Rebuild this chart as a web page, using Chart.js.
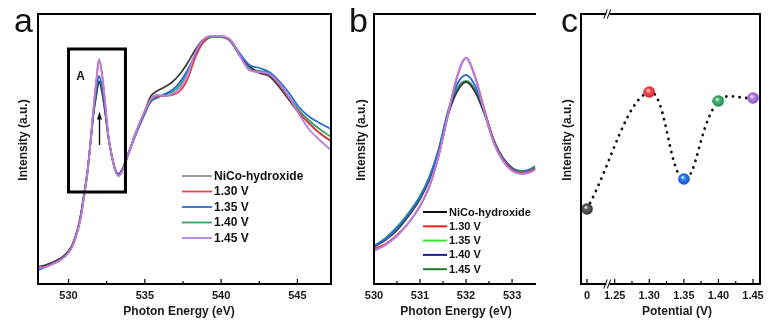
<!DOCTYPE html>
<html>
<head>
<meta charset="utf-8">
<script src="https://cdn.jsdelivr.net/npm/chart.js@4.4.1/dist/chart.umd.min.js"></script>
<style>
  body { margin: 0; background: #fff; width: 780px; height: 326px; position: relative; overflow: hidden; font-family: "Liberation Sans", Arial, sans-serif; }
  canvas { position: absolute; top: 0; }
  .tag { position: absolute; top: 3px; font-size: 34px; line-height: 34px; color: #111; }
</style>
</head>
<body>
<canvas id="chartA" width="340" height="326" style="left:0"></canvas>
<canvas id="chartB" width="210" height="326" style="left:340px"></canvas>
<canvas id="chartC" width="230" height="326" style="left:550px"></canvas>
<div class="tag" style="left:14px">a</div>
<div class="tag" style="left:349px">b</div>
<div class="tag" style="left:561px">c</div>
<script>
// ---- O K-edge spectra, full range ----
const energyA = [528, 528.5, 529, 529.5, 530, 530.3, 530.6, 530.8, 531, 531.25, 531.45, 531.65, 531.85, 532, 532.2, 532.4, 532.6, 532.85, 533.05, 533.25, 533.5, 533.9, 534.4, 535, 535.4, 535.8, 536.3, 536.8, 537.3, 537.8, 538.3, 538.8, 539.4, 540, 540.6, 541.2, 541.85, 542.5, 543.15, 543.8, 544.45, 545.1, 545.8, 546.45, 547.2];
const nicoA = [0.068, 0.076, 0.088, 0.104, 0.132, 0.164, 0.22, 0.276, 0.352, 0.456, 0.572, 0.688, 0.768, 0.812, 0.768, 0.688, 0.592, 0.508, 0.46, 0.44, 0.456, 0.52, 0.604, 0.692, 0.752, 0.772, 0.788, 0.808, 0.84, 0.884, 0.936, 0.976, 0.988, 0.988, 0.972, 0.916, 0.872, 0.844, 0.832, 0.788, 0.736, 0.684, 0.64, 0.604, 0.572];
const v130A = [0.066, 0.07, 0.082, 0.098, 0.126, 0.158, 0.214, 0.266, 0.342, 0.448, 0.574, 0.708, 0.828, 0.896, 0.836, 0.72, 0.598, 0.508, 0.458, 0.434, 0.45, 0.516, 0.604, 0.69, 0.736, 0.752, 0.752, 0.756, 0.772, 0.82, 0.904, 0.964, 0.988, 0.988, 0.976, 0.916, 0.856, 0.848, 0.84, 0.8, 0.744, 0.688, 0.64, 0.604, 0.572];
const v135A = [0.056, 0.068, 0.084, 0.1, 0.128, 0.16, 0.216, 0.272, 0.348, 0.452, 0.572, 0.696, 0.792, 0.832, 0.788, 0.7, 0.596, 0.508, 0.46, 0.44, 0.456, 0.516, 0.596, 0.68, 0.732, 0.744, 0.76, 0.776, 0.808, 0.856, 0.916, 0.968, 0.988, 0.988, 0.976, 0.924, 0.876, 0.864, 0.848, 0.812, 0.764, 0.708, 0.668, 0.644, 0.62];
const v140A = [0.066, 0.075, 0.087, 0.103, 0.131, 0.163, 0.219, 0.275, 0.351, 0.455, 0.571, 0.687, 0.767, 0.81, 0.767, 0.688, 0.592, 0.506, 0.458, 0.438, 0.454, 0.518, 0.6, 0.688, 0.728, 0.748, 0.756, 0.768, 0.796, 0.848, 0.912, 0.964, 0.988, 0.988, 0.972, 0.916, 0.864, 0.852, 0.844, 0.8, 0.748, 0.696, 0.652, 0.62, 0.588];
const v145A = [0.064, 0.068, 0.08, 0.096, 0.124, 0.156, 0.212, 0.264, 0.34, 0.448, 0.576, 0.712, 0.832, 0.9, 0.84, 0.724, 0.6, 0.508, 0.456, 0.432, 0.448, 0.516, 0.604, 0.692, 0.74, 0.756, 0.752, 0.76, 0.784, 0.84, 0.924, 0.976, 0.992, 0.992, 0.976, 0.916, 0.856, 0.848, 0.84, 0.804, 0.748, 0.68, 0.616, 0.576, 0.536];

// ---- pre-edge peak A, zoomed ----
const energyB = [530, 530.25, 530.5, 530.75, 531, 531.2, 531.4, 531.6, 531.8, 532, 532.2, 532.4, 532.6, 532.8, 533, 533.2, 533.35, 533.5];
const nicoB = [0.148, 0.176, 0.216, 0.272, 0.34, 0.416, 0.528, 0.672, 0.768, 0.808, 0.768, 0.68, 0.576, 0.504, 0.464, 0.448, 0.452, 0.464];
const v130B = [0.14, 0.16, 0.196, 0.244, 0.312, 0.388, 0.508, 0.668, 0.824, 0.904, 0.828, 0.696, 0.572, 0.496, 0.456, 0.444, 0.448, 0.46];
const v135B = [0.152, 0.18, 0.224, 0.28, 0.348, 0.424, 0.532, 0.684, 0.796, 0.836, 0.792, 0.692, 0.576, 0.5, 0.46, 0.448, 0.452, 0.464];
const v140B = [0.152, 0.184, 0.228, 0.284, 0.352, 0.428, 0.536, 0.684, 0.78, 0.812, 0.776, 0.684, 0.576, 0.504, 0.464, 0.452, 0.456, 0.472];
const v145B = [0.132, 0.156, 0.192, 0.244, 0.312, 0.392, 0.512, 0.672, 0.828, 0.904, 0.824, 0.688, 0.564, 0.492, 0.452, 0.44, 0.444, 0.456];

const seriesNames = ['NiCo-hydroxide', '1.30 V', '1.35 V', '1.40 V', '1.45 V'];

// ---- peak A intensity vs potential ----
const potentials = [0, 1.30, 1.35, 1.40, 1.45];
const peakIntensity = [0.30, 0.768, 0.42, 0.732, 0.744];

const ticksA = [530, 535, 540, 545];
const ticksB = [530, 531, 532, 533];
const tickLabelsC = ['0', '1.25', '1.30', '1.35', '1.40', '1.45'];
const tickPotentialsC = [0, 1.25, 1.30, 1.35, 1.40, 1.45];

const lineColors = ['#3a3a3a', '#e2444a', '#2a6fd4', '#35a366', '#b47fe3'];
const keyColorsB = ['#111111', '#ff1f1f', '#35e635', '#1c1ca6', '#1f7d2b'];
const ballColors = [['#6a6a6a', '#2e2e2e'], ['#ff5a5a', '#c71f1f'], ['#3d8cff', '#1148b8'], ['#4cc47e', '#1d7a45'], ['#bf8cf0', '#7f4cc0']];

// broken potential axis: everything from 1.25 V up is pulled next to 0
const breakGap = 0.04;
const toAxis = v => (v < 1 ? v : v - 1.25 + breakGap);

const FONT = '"Liberation Sans", Arial, sans-serif';
Chart.defaults.font.family = FONT;
Chart.defaults.color = '#1a1a1a';

/* frame, inward ticks and axis titles */
const frameDecor = {
  id: 'frameDecor',
  afterDatasetsDraw(chart, args, o) {
    const { ctx, chartArea: { left, right, top, bottom }, scales: { x } } = chart;
    ctx.save();
    ctx.strokeStyle = '#000';
    ctx.lineWidth = 2;
    ctx.lineJoin = 'miter';
    ctx.beginPath();
    if (o.rightSide) {
      ctx.rect(left, top, right - left, bottom - top);
    } else {
      ctx.moveTo(right, top);
      ctx.lineTo(left, top);
      ctx.lineTo(left, bottom);
      ctx.lineTo(right, bottom);
    }
    ctx.stroke();

    ctx.lineWidth = 1.2;
    ctx.beginPath();
    o.major.forEach(v => {
      const px = x.getPixelForValue(v);
      ctx.moveTo(px, bottom);
      ctx.lineTo(px, bottom - 5);
    });
    o.minor.forEach(v => {
      const px = x.getPixelForValue(v);
      ctx.moveTo(px, bottom);
      ctx.lineTo(px, bottom - 3);
    });
    ctx.stroke();

    ctx.fillStyle = '#1a1a1a';
    ctx.font = 'bold 12px ' + FONT;
    ctx.textAlign = 'center';
    ctx.textBaseline = 'middle';
    ctx.fillText(o.xTitle, o.xTitleX, 312);
    ctx.translate(o.yTitleX, 140);
    ctx.rotate(-Math.PI / 2);
    ctx.fillText('Intensity (a.u.)', 0, 0);
    ctx.restore();
  }
};

/* legend drawn inside the plot */
const keyBox = {
  id: 'keyBox',
  afterDatasetsDraw(chart, args, o) {
    const ctx = chart.ctx;
    ctx.save();
    ctx.font = 'bold ' + o.size + 'px ' + FONT;
    ctx.textBaseline = 'middle';
    ctx.fillStyle = '#111';
    seriesNames.forEach((name, i) => {
      const yy = o.y + i * o.row;
      ctx.strokeStyle = o.colors[i];
      ctx.lineWidth = i === 0 ? o.firstWidth : o.width;
      ctx.beginPath();
      ctx.moveTo(o.x, yy);
      ctx.lineTo(o.x + o.len, yy);
      ctx.stroke();
      ctx.fillText(name, o.x + o.len + 2, yy + 0.5);
    });
    ctx.restore();
  }
};

/* box around peak A with arrow */
const peakBox = {
  id: 'peakBox',
  afterDatasetsDraw(chart, args, o) {
    const { ctx, scales: { x, y } } = chart;
    const x0 = x.getPixelForValue(o.box[0]), x1 = x.getPixelForValue(o.box[1]);
    const y0 = y.getPixelForValue(o.box[2]), y1 = y.getPixelForValue(o.box[3]);
    ctx.save();
    ctx.strokeStyle = '#000';
    ctx.lineWidth = 3;
    ctx.strokeRect(x0, y0, x1 - x0, y1 - y0);

    ctx.fillStyle = '#111';
    ctx.font = 'bold 12px ' + FONT;
    ctx.textAlign = 'center';
    ctx.textBaseline = 'middle';
    ctx.fillText('A', x.getPixelForValue(o.tag[0]), y.getPixelForValue(o.tag[1]));

    const ax = x.getPixelForValue(o.arrow[0]);
    const ay0 = y.getPixelForValue(o.arrow[1]);
    const ay1 = y.getPixelForValue(o.arrow[2]);
    ctx.lineWidth = 1.3;
    ctx.beginPath();
    ctx.moveTo(ax, ay0);
    ctx.lineTo(ax, ay1 + 5);
    ctx.stroke();
    ctx.beginPath();
    ctx.moveTo(ax, ay1);
    ctx.lineTo(ax - 2.5, ay1 + 8);
    ctx.lineTo(ax + 2.5, ay1 + 8);
    ctx.closePath();
    ctx.fill();
    ctx.restore();
  }
};

/* axis break marks on the potential axis */
const axisBreak = {
  id: 'axisBreak',
  afterDraw(chart, args, o) {
    const { ctx, chartArea: { top, bottom }, scales: { x } } = chart;
    const px = x.getPixelForValue(o.at);
    ctx.save();
    [top, bottom].forEach(yy => {
      ctx.fillStyle = '#fff';
      ctx.fillRect(px - 1.5, yy - 2, 3, 4);
      ctx.strokeStyle = '#000';
      ctx.lineWidth = 1;
      ctx.beginPath();
      ctx.moveTo(px - 4, yy + 4.5);
      ctx.lineTo(px - 0.5, yy - 4.5);
      ctx.moveTo(px - 0.5, yy + 4.5);
      ctx.lineTo(px + 3, yy - 4.5);
      ctx.stroke();
    });
    ctx.restore();
  }
};

function energyAxis(min, max, ticks) {
  return {
    type: 'linear',
    min: min,
    max: max,
    grid: { display: false, drawTicks: false },
    border: { display: false },
    afterBuildTicks: s => { s.ticks = ticks.map(v => ({ value: v })); },
    afterFit: s => { s.height = 42; },
    ticks: {
      autoSkip: false,
      maxRotation: 0,
      padding: 5,
      callback: v => String(v),
      font: { size: 11, weight: 'bold' }
    }
  };
}

const intensityAxis = { type: 'linear', display: false, min: 0, max: 1.08 };

function spectrum(xs, ys, i, width, order) {
  return {
    label: seriesNames[i],
    data: xs.map((e, k) => ({ x: e, y: ys[k] })),
    borderColor: lineColors[i],
    borderWidth: width,
    pointRadius: 0,
    cubicInterpolationMode: 'monotone',
    fill: false,
    order: order
  };
}

const quiet = { legend: { display: false }, tooltip: { enabled: false } };

new Chart(document.getElementById('chartA'), {
  type: 'line',
  data: {
    datasets: [
      spectrum(energyA, nicoA, 0, 1.7, 3),
      spectrum(energyA, v130A, 1, 1.8, 1),
      spectrum(energyA, v135A, 2, 1.8, 2),
      spectrum(energyA, v140A, 3, 1.8, 4),
      spectrum(energyA, v145A, 4, 1.8, 0)
    ]
  },
  options: {
    responsive: false,
    animation: false,
    events: [],
    layout: { padding: { left: 38, right: 9, top: 14, bottom: 0 } },
    scales: { x: energyAxis(528, 547.2, ticksA), y: intensityAxis },
    plugins: Object.assign({
      frameDecor: {
        rightSide: true, major: ticksA, minor: [532.5, 537.5, 542.5],
        xTitle: 'Photon Energy (eV)', xTitleX: 179, yTitleX: 24
      },
      keyBox: { x: 182, y: 176, row: 15.5, len: 30, size: 12, width: 1.8, firstWidth: 1, colors: lineColors },
      peakBox: { box: [530, 533.73, 0.94, 0.368], tag: [530.79, 0.828], arrow: [532.03, 0.556, 0.69] }
    }, quiet)
  },
  plugins: [frameDecor, keyBox, peakBox]
});

new Chart(document.getElementById('chartB'), {
  type: 'line',
  data: {
    datasets: [
      spectrum(energyB, nicoB, 0, 1.9, 3),
      spectrum(energyB, v130B, 1, 1.9, 1),
      spectrum(energyB, v135B, 2, 1.9, 2),
      spectrum(energyB, v140B, 3, 1.9, 4),
      spectrum(energyB, v145B, 4, 1.9, 0)
    ]
  },
  options: {
    responsive: false,
    animation: false,
    events: [],
    layout: { padding: { left: 34, right: 14, top: 14, bottom: 0 } },
    scales: { x: energyAxis(530, 533.52, ticksB), y: intensityAxis },
    plugins: Object.assign({
      frameDecor: {
        rightSide: false, major: ticksB, minor: [530.5, 531.5, 532.5],
        xTitle: 'Photon Energy (eV)', xTitleX: 116, yTitleX: 22
      },
      keyBox: { x: 83, y: 212, row: 14.3, len: 24, size: 11, width: 2, firstWidth: 2, colors: keyColorsB }
    }, quiet)
  },
  plugins: [frameDecor, keyBox]
});

// shaded balls for the potential series
function makeBall(pair) {
  const c = document.createElement('canvas');
  c.width = c.height = 12;
  const g = c.getContext('2d');
  const grad = g.createRadialGradient(4.6, 4.2, 0.3, 6, 6, 6);
  grad.addColorStop(0, '#ffffff');
  grad.addColorStop(0.28, pair[0]);
  grad.addColorStop(1, pair[1]);
  g.fillStyle = grad;
  g.beginPath();
  g.arc(6, 6, 5.8, 0, Math.PI * 2);
  g.fill();
  return c;
}
const balls = ballColors.map(makeBall);

new Chart(document.getElementById('chartC'), {
  type: 'line',
  data: {
    datasets: [{
      label: 'Peak A',
      data: potentials.map((p, k) => ({ x: toAxis(p), y: peakIntensity[k] })),
      borderColor: '#111',
      borderWidth: 2.8,
      borderDash: [0.1, 6.6],
      borderCapStyle: 'round',
      tension: 0.4,
      fill: false,
      pointStyle: balls,
      pointRadius: 6
    }]
  },
  options: {
    responsive: false,
    animation: false,
    events: [],
    layout: { padding: { left: 31, right: 20, top: 14, bottom: 0 } },
    scales: {
      x: {
        type: 'linear',
        min: -0.0087,
        max: 0.2501,
        grid: { display: false, drawTicks: false },
        border: { display: false },
        afterBuildTicks: s => { s.ticks = tickPotentialsC.map(v => ({ value: toAxis(v) })); },
        afterFit: s => { s.height = 42; },
        ticks: {
          autoSkip: false,
          maxRotation: 0,
          padding: 5,
          callback: (v, i) => tickLabelsC[i],
          font: { size: 11, weight: 'bold' }
        }
      },
      y: intensityAxis
    },
    plugins: Object.assign({
      frameDecor: {
        rightSide: true,
        major: tickPotentialsC.map(toAxis),
        minor: [1.275, 1.325, 1.375, 1.425].map(toAxis),
        xTitle: 'Potential (V)', xTitleX: 127, yTitleX: 18
      },
      axisBreak: { at: 0.03 }
    }, quiet)
  },
  plugins: [frameDecor, axisBreak]
});
</script>
</body>
</html>
